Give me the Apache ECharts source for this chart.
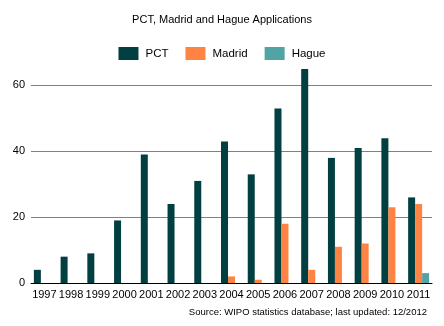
<!DOCTYPE html>
<html>
<head>
<meta charset="utf-8">
<script src="https://cdn.jsdelivr.net/npm/echarts@6/dist/echarts.min.js"></script>
<style>
html, body { margin: 0; padding: 0; background: #fff; }
#chart { width: 444px; height: 326px; }
</style>
</head>
<body>
<div id="chart"></div>
<script>
// Applications per year, 1997–2011
const years = ['1997','1998','1999','2000','2001','2002','2003','2004','2005','2006','2007','2008','2009','2010','2011'];
const pct    = [4, 8, 9, 19, 39, 24, 31, 43, 33, 53, 65, 38, 41, 44, 26];
const madrid = [0, 0, 0, 0, 0, 0, 0, 2, 1, 18, 4, 11, 12, 23, 24];
const hague  = [0, 0, 0, 0, 0, 0, 0, 0, 0, 0, 0, 0, 0, 0, 3];
const yTicks = [0, 20, 40, 60];

const FONT = 'Liberation Sans';
const chart = echarts.init(document.getElementById('chart'), null, { renderer: 'canvas' });

function barSeries(name, data, color) {
  return {
    name: name,
    type: 'bar',
    data: data,
    barWidth: 7,
    barGap: '0%',
    itemStyle: { color: color },
    emphasis: { disabled: true },
    animation: false
  };
}

chart.setOption({
  animation: false,
  title: [
    {
      text: 'PCT, Madrid and Hague Applications',
      left: 'center',
      top: 9,
      textStyle: { fontFamily: FONT, fontSize: 11, fontWeight: 'normal', color: '#000' }
    },
    {
      text: 'Source: WIPO statistics database; last updated: 12/2012',
      right: 12,
      top: 302,
      textStyle: { fontFamily: FONT, fontSize: 9.5, fontWeight: 'normal', color: '#000' }
    }
  ],
  legend: {
    top: 42,
    left: 'center',
    itemWidth: 20,
    itemHeight: 13,
    itemGap: 17,
    icon: 'rect',
    textStyle: { fontFamily: FONT, fontSize: 11.5, color: '#000', padding: [0, 0, 0, 2] },
    data: ['PCT', 'Madrid', 'Hague']
  },
  grid: { left: 31, right: 12, top: 69, bottom: 43, containLabel: false },
  xAxis: {
    type: 'category',
    data: years,
    axisLine: { lineStyle: { color: '#000', width: 1 } },
    axisTick: { show: false },
    axisLabel: { fontFamily: FONT, fontSize: 11, color: '#000', margin: 6, interval: 0 }
  },
  yAxis: {
    type: 'value',
    min: yTicks[0],
    max: 65,
    interval: yTicks[1] - yTicks[0],
    axisLine: { show: false },
    axisTick: { show: false },
    axisLabel: { fontFamily: FONT, fontSize: 11, color: '#000', margin: 6, showMaxLabel: false },
    splitLine: { show: true, showMaxLine: false, lineStyle: { color: '#808080', width: 1 } }
  },
  series: [
    barSeries('PCT', pct, '#023F40'),
    barSeries('Madrid', madrid, '#FF8444'),
    barSeries('Hague', hague, '#52A3A3')
  ]
});
</script>
</body>
</html>
